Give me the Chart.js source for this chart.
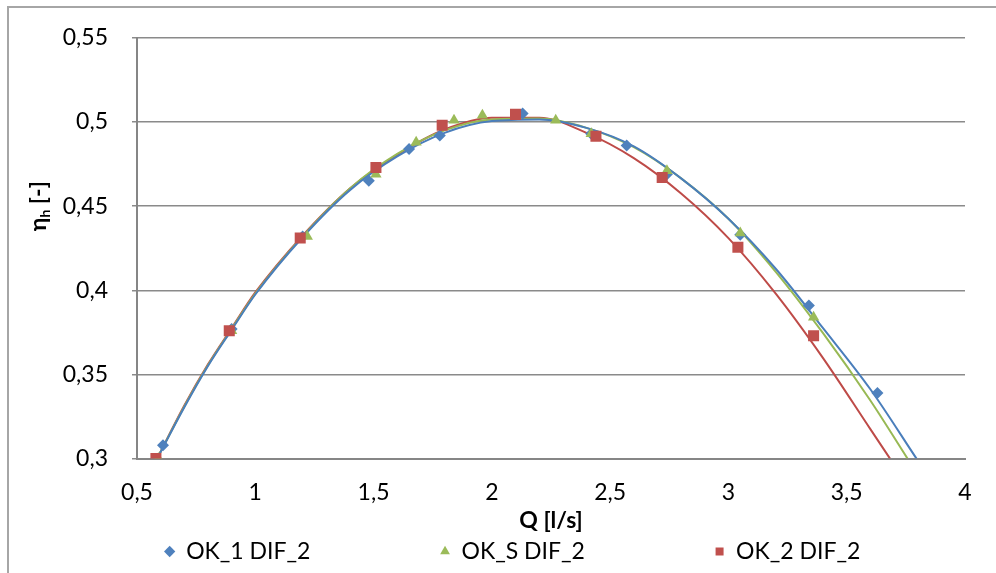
<!DOCTYPE html>
<html>
<head>
<meta charset="utf-8">
<script src="https://cdn.jsdelivr.net/npm/chart.js@4"></script>
<style>
  body { margin: 0; background: #fff; }
  #wrap { position: relative; width: 996px; height: 573px; overflow: hidden; }
  #frame { position: absolute; left: 7px; top: 6px; width: 1000px; height: 600px;
           border-left: 2px solid #a6a6a6; border-top: 2px solid #a6a6a6; pointer-events: none; }
</style>
</head>
<body>
<div id="wrap">
  <canvas id="chart" width="996" height="573"></canvas>
  <div id="frame"></div>
</div>
<script>
// measured points
const ok1Q   = [0.61, 0.90, 1.20, 1.48, 1.65, 1.78, 2.13, 2.42, 2.57, 2.74, 3.05, 3.34, 3.63];
const ok1Eta = [0.308, 0.377, 0.432, 0.465, 0.484, 0.492, 0.505, 0.493, 0.486, 0.469, 0.433, 0.391, 0.339];

const okSQ   = [0.59, 0.90, 1.22, 1.51, 1.68, 1.84, 1.96, 2.27, 2.42, 2.74, 3.05, 3.36];
const okSEta = [0.300, 0.376, 0.432, 0.469, 0.488, 0.501, 0.504, 0.501, 0.493, 0.471, 0.434, 0.384];

const ok2Q   = [0.58, 0.89, 1.19, 1.51, 1.79, 2.10, 2.44, 2.72, 3.04, 3.36];
const ok2Eta = [0.300, 0.376, 0.431, 0.473, 0.498, 0.5045, 0.4915, 0.467, 0.4255, 0.373];

// trend lines
const trend1Q   = [0.585, 0.7, 0.8, 0.9, 1.0, 1.2, 1.4, 1.6, 1.8, 2.0, 2.2, 2.4, 2.6, 2.8, 3.0, 3.2, 3.4, 3.6, 3.795];
const trend1Eta = [0.300, 0.3305, 0.355, 0.3765, 0.3975, 0.4315, 0.4595, 0.4795, 0.4935, 0.5005, 0.5015, 0.4965, 0.4855, 0.4665, 0.4425, 0.4128, 0.3775, 0.3412, 0.300];

const trendSQ   = [0.585, 0.7, 0.8, 0.9, 1.0, 1.2, 1.4, 1.6, 1.8, 2.0, 2.2, 2.4, 2.6, 2.8, 3.0, 3.2, 3.4, 3.6, 3.757];
const trendSEta = [0.300, 0.331, 0.3555, 0.377, 0.398, 0.432, 0.4605, 0.481, 0.495, 0.5015, 0.502, 0.4965, 0.485, 0.4665, 0.4425, 0.411, 0.3745, 0.3345, 0.300];

const trend2Q   = [0.585, 0.7, 0.8, 0.9, 1.0, 1.2, 1.4, 1.6, 1.8, 2.0, 2.2, 2.4, 2.6, 2.8, 3.0, 3.2, 3.4, 3.6, 3.683];
const trend2Eta = [0.300, 0.3315, 0.356, 0.3775, 0.3987, 0.4325, 0.4605, 0.4805, 0.4955, 0.5025, 0.5025, 0.4935, 0.4785, 0.4575, 0.431, 0.398, 0.3597, 0.3175, 0.300];

const seriesNames = ['OK_1 DIF_2', 'OK_S DIF_2', 'OK_2 DIF_2'];
const xTickLabels = ['0,5', '1', '1,5', '2', '2,5', '3', '3,5', '4'];
const yTickLabels = ['0,3', '0,35', '0,4', '0,45', '0,5', '0,55'];
const xTitle = 'Q [l/s]';
const yTitle = ['η', 'h', ' [-]'];

const blue = '#4F81BD', green = '#9BBB59', red = '#C0504D';

function pts(qs, etas) {
  return qs.map((q, i) => ({ x: q, y: etas[i] }));
}

function trend(qs, etas, color) {
  return {
    data: pts(qs, etas),
    showLine: true,
    borderColor: color,
    borderWidth: 2,
    pointRadius: 0,
    cubicInterpolationMode: 'monotone',
    order: 5
  };
}

// y axis title with subscript h
const yTitlePlugin = {
  id: 'yTitle',
  afterDraw(chart) {
    const { ctx, chartArea } = chart;
    ctx.save();
    ctx.translate(chartArea.left - 91, (chartArea.top + chartArea.bottom) / 2 - 42);
    ctx.rotate(-Math.PI / 2);
    ctx.fillStyle = '#000';
    ctx.textBaseline = 'alphabetic';
    const big = 'bold 23px Lato', small = 'bold 14px Lato';
    ctx.font = big;
    const w0 = ctx.measureText(yTitle[0]).width;
    const w2 = ctx.measureText(yTitle[2]).width;
    ctx.font = small;
    const w1 = ctx.measureText(yTitle[1]).width;
    let x = -(w0 + w1 + w2) / 2;
    ctx.font = big;
    ctx.fillText(yTitle[0], x, 0);
    x += w0;
    ctx.font = small;
    ctx.fillText(yTitle[1], x, 4);
    x += w1;
    ctx.font = big;
    ctx.fillText(yTitle[2], x, 0);
    ctx.restore();
  }
};

Chart.defaults.font.family = 'Lato';
Chart.defaults.font.size = 23;
Chart.defaults.color = '#000';

const gap = '\u2003'.repeat(7) + '\u2009';

new Chart(document.getElementById('chart').getContext('2d'), {
  type: 'scatter',
  data: {
    datasets: [
      { label: seriesNames[0], data: pts(ok1Q, ok1Eta), pointStyle: 'rectRot', pointRadius: 6,
        backgroundColor: blue, borderColor: blue, borderWidth: 0, order: 3 },
      { label: seriesNames[1], data: pts(okSQ, okSEta), pointStyle: 'triangle', pointRadius: 6.5,
        backgroundColor: green, borderColor: green, borderWidth: 0, order: 2 },
      { label: seriesNames[2], data: pts(ok2Q, ok2Eta), pointStyle: 'rect', pointRadius: 7.8,
        backgroundColor: red, borderColor: red, borderWidth: 0, order: 1 },
      trend(trend1Q, trend1Eta, '#4A7EBB'),
      trend(trendSQ, trendSEta, '#98B954'),
      trend(trend2Q, trend2Eta, '#BE4B48')
    ]
  },
  options: {
    responsive: false,
    animation: false,
    layout: { padding: { left: 60, right: 31, top: 35, bottom: 0 } },
    plugins: {
      tooltip: { enabled: false },
      legend: {
        position: 'bottom',
        labels: {
          usePointStyle: true,
          boxWidth: 10,
          boxHeight: 8,
          padding: 6,
          color: '#000',
          font: { size: 23 },
          filter: item => item.datasetIndex < 3,
          sort: (a, b) => a.datasetIndex - b.datasetIndex,
          generateLabels: chart => {
            const items = Chart.defaults.plugins.legend.labels.generateLabels(chart);
            items.forEach(it => {
              if (it.datasetIndex < 2) it.text = it.text + gap;
            });
            return items;
          }
        }
      }
    },
    scales: {
      x: {
        type: 'linear',
        min: 0.5,
        max: 4,
        ticks: {
          stepSize: 0.5,
          padding: 20,
          callback: (v, i) => xTickLabels[i]
        },
        grid: { display: false, drawTicks: false },
        border: { display: true, color: '#868686', width: 2 },
        title: { display: true, text: xTitle, font: { weight: 'bold', size: 23 }, padding: { top: 0, bottom: 0 } },
        afterFit: s => { s.height = 75.4; }
      },
      y: {
        min: 0.3,
        max: 0.55,
        ticks: {
          stepSize: 0.05,
          padding: 24,
          callback: (v, i) => yTickLabels[i]
        },
        grid: { color: '#8a8a8a', lineWidth: 1.5, tickLength: 5 },
        border: { display: true, color: '#868686', width: 2 },
        afterFit: s => { s.width = 77; }
      }
    }
  },
  plugins: [yTitlePlugin]
});
</script>
</body>
</html>
